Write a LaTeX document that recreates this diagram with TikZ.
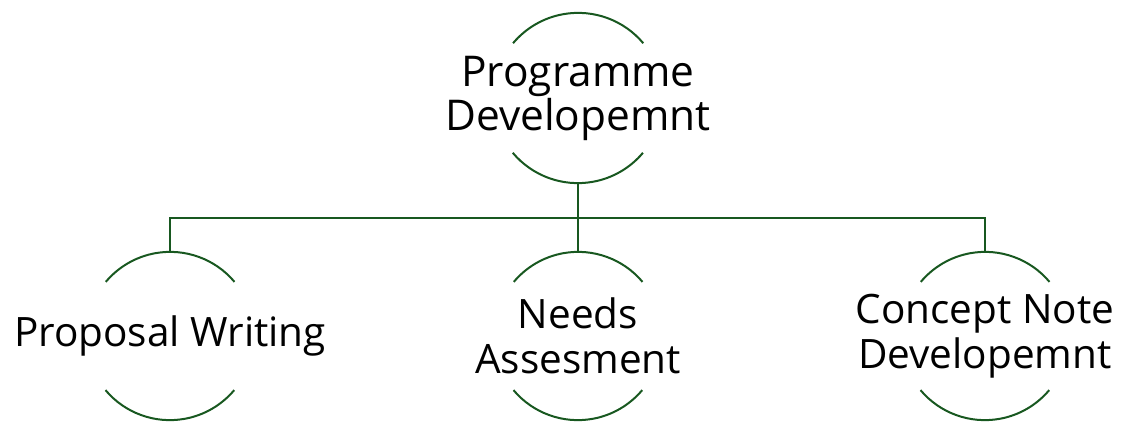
\documentclass[tikz,border=0pt]{standalone}
\usepackage{fontspec}
\setmainfont{Open Sans}
\definecolor{treegreen}{RGB}{24,88,32}
\tikzset{
  ringnode/.style={circle, minimum size=#1, inner sep=0pt},
  ring/.style={draw=treegreen, line width=2pt},
  link/.style={draw=treegreen, line width=2pt},
  toptext/.style={align=center, font=\fontsize{42.4}{44}\selectfont},
  subtext/.style={align=center, font=\fontsize{40.5}{45}\selectfont},
}
\begin{document}
\begin{tikzpicture}[x=1pt,y=1pt]
        \useasboundingbox (0,0) rectangle (1126,421);

        % circles
        \node[ringnode=170pt] (prog) at (578,323) {};
        \node[ringnode=168pt] (prop) at (170,85) {};
        \node[ringnode=168pt] (needs) at (578,85) {};
        \node[ringnode=168pt] (cnote) at (985,85) {};

        % arcs
        \draw[ring] (prog.40) arc[start angle=40, end angle=140, radius=85pt];
        \draw[ring] (prog.220) arc[start angle=220, end angle=320, radius=85pt];
        \foreach \n in {prop, needs, cnote} {
            \draw[ring] (\n.40) arc[start angle=40, end angle=140, radius=84pt];
            \draw[ring] (\n.220) arc[start angle=220, end angle=320, radius=84pt];
        }

        % texts
        \node[toptext] (prog-text) at (prog) {Programme\\Developemnt};
        \node[subtext] (prop-text) at (prop) {Proposal Writing};
        \node[subtext] (needs-text) at (needs) {Needs\\Assesment};
        \node[subtext] (cnote-text) at (cnote) {Concept Note\\Developemnt};

        % connectors
        \draw[link] (prog.south) -- ++(0,-35pt) coordinate (bus);
        \draw[link] (prop.north) |- (bus) -| (cnote.north);
        \draw[link] (bus) -- (needs.north);
    \end{tikzpicture}
\end{document}
